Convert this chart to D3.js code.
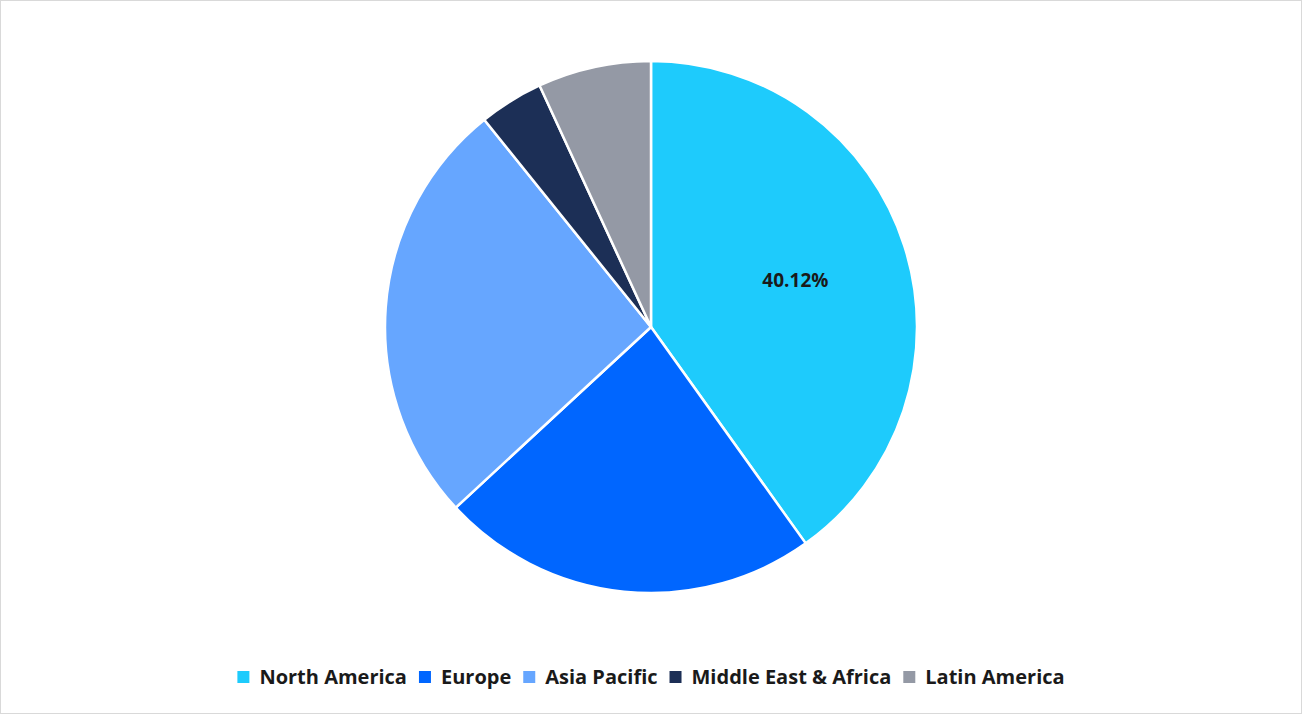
<!DOCTYPE html>
<html><head><meta charset="utf-8">
<script src="https://cdn.jsdelivr.net/npm/d3@7"></script>
<style>
body{margin:0;background:#fff;font-family:"Open Sans","Liberation Sans",sans-serif}
</style></head>
<body><svg id="chart" width="1302" height="714"></svg>
<script>
// values
const regions = ["North America", "Europe", "Asia Pacific", "Middle East & Africa", "Latin America"]
const shares = [40.12, 23.0, 26.1, 3.9, 6.88]
const colors = ["#1ECBFC", "#0066FF", "#66A6FF", "#1C2F56", "#9499A5"]
const labelled = ["North America"]

const svg = d3.select("#chart")
svg.append("rect").attr("x", 0.5).attr("y", 0.5).attr("width", 1301).attr("height", 713)
  .attr("fill", "#fff").attr("stroke", "#d9d9d9")

const cx = 651, cy = 327, r = 266
const pie = d3.pie().sort(null).value(d => d.v)
const arc = d3.arc().innerRadius(0).outerRadius(r)
const data = pie(regions.map((k, i) => ({k, v: shares[i], c: colors[i]})))

const g = svg.append("g").attr("transform", `translate(${cx},${cy})`)
g.selectAll("path").data(data).enter().append("path")
  .attr("d", arc).attr("fill", d => d.data.c)
  .attr("stroke", "#fff").attr("stroke-width", 2.5)

const labelArc = d3.arc().innerRadius(r * 0.57).outerRadius(r * 0.57)
g.selectAll("text").data(data.filter(d => labelled.includes(d.data.k))).enter().append("text")
  .attr("transform", d => `translate(${labelArc.centroid(d)})`)
  .attr("text-anchor", "middle").attr("dy", "0.35em")
  .attr("font-size", 19).attr("font-weight", "bold").attr("fill", "#1a1a1a")
  .text(d => d.data.v.toFixed(2) + "%")

// legend, centred
const legend = svg.append("g")
let x = 0
regions.forEach((k, i) => {
  const it = legend.append("g").attr("transform", `translate(${x},0)`)
  it.append("rect").attr("x", 0).attr("y", -6).attr("width", 12).attr("height", 12).attr("fill", colors[i])
  const t = it.append("text").attr("x", 22).attr("dy", "0.35em")
    .attr("font-size", 20).attr("font-weight", "bold").attr("fill", "#1a1a1a").text(k)
  x += 22 + t.node().getComputedTextLength() + 12
})
legend.attr("transform", `translate(${(1302 - (x - 12)) / 2},677)`)
</script></body></html>
